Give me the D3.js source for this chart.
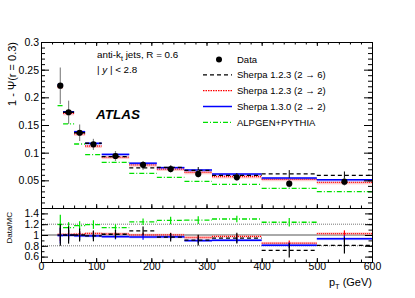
<!DOCTYPE html>
<html>
<head>
<meta charset="utf-8">
<script src="https://cdn.jsdelivr.net/npm/d3@7"></script>
<style>
  body { margin: 0; background: #fff; }
  svg { display: block; font-family: 'Liberation Sans', Arial, sans-serif; }
</style>
</head>
<body>
<svg></svg>
<script>
const w = 415;
const h = 298;

// pT bins (GeV)
const binLo = [30, 40, 60, 80, 110, 160, 210, 260, 310, 400, 500];
const binHi = [40, 60, 80, 110, 160, 210, 260, 310, 400, 500, 600];

// 1 - Psi(r = 0.3)
const dataVal = [0.221, 0.173, 0.136, 0.115, 0.094, 0.078, 0.0705, 0.0615, 0.0555, 0.044, 0.0476];
const dataErr = [0.033, 0.021, 0.015, 0.010, 0.009, 0.007, 0.007, 0.007, 0.006, 0.007, 0.007];
const sherpa26 = [0.221, 0.173, 0.136, 0.117, 0.0927, 0.0725, 0.0735, 0.068, 0.059, 0.0615, 0.059];
const sherpa26Err = [0.004, 0.003, 0.003, 0.003, 0.003, 0.003, 0.004, 0.006, 0.004, 0.007, 0.007];
const sherpa122 = [0.219, 0.171, 0.134, 0.112, 0.092, 0.078, 0.0705, 0.0645, 0.057, 0.0519, 0.0464];
const sherpa130 = [0.223, 0.174, 0.138, 0.117, 0.097, 0.081, 0.073, 0.0687, 0.0615, 0.0542, 0.0512];
const alpgen = [0.185, 0.152, 0.1157, 0.0964, 0.0826, 0.0627, 0.0555, 0.0482, 0.0428, 0.0356, 0.0295];

// Data/MC uncertainties
const ratioErr26 = [0.2, 0.16, 0.12, 0.1, 0.08, 0.08, 0.08, 0.1, 0.1, 0.13, 0.15];
const ratioErr122 = [0.12, 0.08, 0.06, 0.05, 0.04, 0.04, 0.04, 0.04, 0.04, 0.05, 0.06];
const ratioErr130 = [0.15, 0.1, 0.08, 0.06, 0.05, 0.05, 0.05, 0.05, 0.04, 0.05, 0.06];
const ratioErrAlp = [0.18, 0.1, 0.08, 0.08, 0.06, 0.06, 0.07, 0.07, 0.06, 0.08, 0.1];

const xMajor = [0, 100, 200, 300, 400, 500, 600];
const xMinor = d3.range(0, 601, 20);
const yTicks = [0.05, 0.1, 0.15, 0.2, 0.25, 0.3];
const yMinor = d3.range(0, 0.3001, 0.01);
const rTicks = [0.6, 0.8, 1, 1.2, 1.4];
const rMinor = [0.5, 0.6, 0.7, 0.8, 0.9, 1, 1.1, 1.2, 1.3, 1.4, 1.5];

const legendLabels = ['Data', 'Sherpa 1.2.3 (2 \u2192 6)', 'Sherpa 1.2.3 (2 \u2192 2)', 'Sherpa 1.3.0 (2 \u2192 2)', 'ALPGEN+PYTHIA'];

const svg = d3.select('svg').attr('width', w).attr('height', h);

const x = d3.scaleLinear().domain([0, 600]).range([41, 372]);
const y = d3.scaleLinear().domain([0, 0.3]).range([208, 42]);
const yr = d3.scaleLinear().domain([0.5, 1.5]).range([262, 208]);
const mid = i => x((binLo[i] + binHi[i]) / 2);

const green = '#00e000';
const styles = [
  { vals: alpgen, color: green, dash: '5,2,1,2', width: 1.3, rerr: ratioErrAlp },
  { vals: sherpa122, color: '#ff0000', dash: '1,1', width: 1.4, rerr: ratioErr122, band: '#ffaaaa' },
  { vals: sherpa130, color: '#0000ff', dash: null, width: 1.5, rerr: ratioErr130, band: '#9999ff' },
  { vals: sherpa26, color: '#000', dash: '4,3', width: 1.3, rerr: ratioErr26 }
];

svg.append('defs').append('clipPath').attr('id', 'rclip')
  .append('rect').attr('x', 41).attr('y', 208).attr('width', 331).attr('height', 54);

// ---- top panel ----
const main = svg.append('g');

styles.forEach(s => {
  if (s.band) {
    main.selectAll(null).data(s.vals).enter().append('rect')
      .attr('x', (d, i) => x(binLo[i]))
      .attr('width', (d, i) => x(binHi[i]) - x(binLo[i]))
      .attr('y', d => y(d) - 0.5)
      .attr('height', 2.5)
      .attr('fill', s.band)
      .attr('opacity', 0.6);
  }
});

styles.forEach(s => {
  main.selectAll(null).data(s.vals).enter().append('line')
    .attr('x1', (d, i) => x(binLo[i]))
    .attr('x2', (d, i) => x(binHi[i]))
    .attr('y1', d => y(d))
    .attr('y2', d => y(d))
    .attr('stroke', s.color)
    .attr('stroke-width', s.width)
    .attr('stroke-dasharray', s.dash);
});

// Sherpa 2->6 stat errors
main.selectAll(null).data(sherpa26).enter().append('line')
  .attr('x1', (d, i) => mid(i))
  .attr('x2', (d, i) => mid(i))
  .attr('y1', (d, i) => y(d - sherpa26Err[i]))
  .attr('y2', (d, i) => y(d + sherpa26Err[i]))
  .attr('stroke', '#000');

// data
main.selectAll(null).data(dataVal).enter().append('line')
  .attr('x1', (d, i) => mid(i))
  .attr('x2', (d, i) => mid(i))
  .attr('y1', (d, i) => y(d - dataErr[i]))
  .attr('y2', (d, i) => y(d + dataErr[i]))
  .attr('stroke', '#888')
  .attr('stroke-width', 1.2);

main.selectAll(null).data(dataVal).enter().append('circle')
  .attr('cx', (d, i) => mid(i))
  .attr('cy', d => y(d))
  .attr('r', 3.1)
  .attr('fill', '#000');

// ---- ratio panel ----
const rat = svg.append('g').attr('clip-path', 'url(#rclip)');

rat.append('line').attr('x1', 41).attr('x2', 372).attr('y1', yr(1)).attr('y2', yr(1))
  .attr('stroke', '#555').attr('stroke-width', 1);
[1.2, 0.8].forEach(v => {
  rat.append('line').attr('x1', 41).attr('x2', 372).attr('y1', yr(v)).attr('y2', yr(v))
    .attr('stroke', '#777').attr('stroke-dasharray', '1,1');
});

styles.forEach(s => {
  const ratio = dataVal.map((d, i) => d / s.vals[i]);
  if (s.band) {
    rat.selectAll(null).data(ratio).enter().append('rect')
      .attr('x', (d, i) => x(binLo[i]))
      .attr('width', (d, i) => x(binHi[i]) - x(binLo[i]))
      .attr('y', d => yr(d + 0.025))
      .attr('height', d => yr(d - 0.025) - yr(d + 0.025))
      .attr('fill', s.band)
      .attr('opacity', 0.55);
  }
  rat.selectAll(null).data(ratio).enter().append('line')
    .attr('x1', (d, i) => x(binLo[i]))
    .attr('x2', (d, i) => x(binHi[i]))
    .attr('y1', d => yr(d))
    .attr('y2', d => yr(d))
    .attr('stroke', s.color)
    .attr('stroke-width', s.width)
    .attr('stroke-dasharray', s.dash);
  rat.selectAll(null).data(ratio).enter().append('line')
    .attr('x1', (d, i) => mid(i))
    .attr('x2', (d, i) => mid(i))
    .attr('y1', (d, i) => yr(d - s.rerr[i]))
    .attr('y2', (d, i) => yr(d + s.rerr[i]))
    .attr('stroke', s.color)
    .attr('stroke-width', 1.2);
});

// ---- axes ----
const font = "'Liberation Sans', Arial, sans-serif";
const styleAxis = g => {
  g.select('.domain').remove();
  g.attr('font-family', font).attr('font-size', 10.5);
  g.selectAll('text').attr('fill', '#000');
  g.selectAll('line').attr('stroke', '#000');
};

// top panel
svg.append('g').attr('transform', 'translate(41,0)')
  .call(d3.axisLeft(y).tickValues(yTicks).tickSize(-8).tickPadding(2).tickFormat(d3.format('~g')))
  .call(styleAxis);
svg.append('g').attr('transform', 'translate(41,0)')
  .call(d3.axisLeft(y).tickValues(yMinor).tickSize(-4).tickFormat(''))
  .call(styleAxis);
svg.append('g').attr('transform', 'translate(372,0)')
  .call(d3.axisRight(y).tickValues(yTicks).tickSize(-8).tickFormat(''))
  .call(styleAxis);
svg.append('g').attr('transform', 'translate(372,0)')
  .call(d3.axisRight(y).tickValues(yMinor).tickSize(-4).tickFormat(''))
  .call(styleAxis);
svg.append('g').attr('transform', 'translate(0,208)')
  .call(d3.axisTop(x).tickValues(xMajor).tickSize(4).tickFormat(''))
  .call(styleAxis);
svg.append('g').attr('transform', 'translate(0,208)')
  .call(d3.axisTop(x).tickValues(xMinor).tickSize(2.5).tickFormat(''))
  .call(styleAxis);
svg.append('g').attr('transform', 'translate(0,42)')
  .call(d3.axisBottom(x).tickValues(xMajor).tickSize(4).tickFormat(''))
  .call(styleAxis);
svg.append('g').attr('transform', 'translate(0,42)')
  .call(d3.axisBottom(x).tickValues(xMinor).tickSize(2.5).tickFormat(''))
  .call(styleAxis);

// ratio panel
svg.append('g').attr('transform', 'translate(41,0)')
  .call(d3.axisLeft(yr).tickValues(rTicks).tickSize(-7).tickPadding(2).tickFormat(d3.format('~g')))
  .call(styleAxis);
svg.append('g').attr('transform', 'translate(41,0)')
  .call(d3.axisLeft(yr).tickValues(rMinor).tickSize(-3.5).tickFormat(''))
  .call(styleAxis);
svg.append('g').attr('transform', 'translate(372,0)')
  .call(d3.axisRight(yr).tickValues(rTicks).tickSize(-7).tickFormat(''))
  .call(styleAxis);
svg.append('g').attr('transform', 'translate(372,0)')
  .call(d3.axisRight(yr).tickValues(rMinor).tickSize(-3.5).tickFormat(''))
  .call(styleAxis);
svg.append('g').attr('transform', 'translate(0,262)')
  .call(d3.axisBottom(x).tickValues(xMajor).tickSize(-4).tickPadding(1))
  .call(styleAxis);
svg.append('g').attr('transform', 'translate(0,262)')
  .call(d3.axisBottom(x).tickValues(xMinor).tickSize(-2.5).tickFormat(''))
  .call(styleAxis);

// frames
[[42, 208], [208, 262]].forEach(([y0, y1]) => {
  svg.append('rect')
    .attr('x', 41.5).attr('y', y0 + 0.5)
    .attr('width', 331).attr('height', y1 - y0)
    .attr('fill', 'none').attr('stroke', '#000').attr('stroke-width', 1);
});

// ---- titles ----
svg.append('text')
  .attr('transform', 'translate(16,42) rotate(-90)')
  .attr('text-anchor', 'end')
  .attr('font-size', 11)
  .text('1 - \u03A8(r = 0.3)');

svg.append('text')
  .attr('transform', 'translate(12,212) rotate(-90)')
  .attr('text-anchor', 'end')
  .attr('font-size', 8)
  .text('Data/MC');

const xt = svg.append('text')
  .attr('x', 372).attr('y', 286)
  .attr('text-anchor', 'end')
  .attr('font-size', 11);
xt.append('tspan').text('p');
xt.append('tspan').attr('font-size', 7.5).attr('dy', 3).text('T');
xt.append('tspan').attr('dy', -3).text(' (GeV)');

const t1 = svg.append('text').attr('x', 97).attr('y', 58).attr('font-size', 9.8);
t1.append('tspan').text('anti-k');
t1.append('tspan').attr('font-size', 7).attr('dy', 2.5).text('t');
t1.append('tspan').attr('dy', -2.5).text(' jets, R = 0.6');

const t2 = svg.append('text').attr('x', 97).attr('y', 73).attr('font-size', 9.8);
t2.append('tspan').text('| ');
t2.append('tspan').attr('font-style', 'italic').text('y');
t2.append('tspan').text(' | < 2.8');

svg.append('text')
  .attr('x', 96).attr('y', 119)
  .attr('font-size', 13.5)
  .attr('font-weight', 'bold')
  .attr('font-style', 'italic')
  .text('ATLAS');

// ---- legend ----
const legY = [62.5, 78.3, 94.2, 110, 125.8];
const legStyles = [null, styles[3], styles[1], styles[2], styles[0]];
const leg = svg.append('g');
legendLabels.forEach((lab, i) => {
  leg.append('text')
    .attr('x', 237).attr('y', legY[i])
    .attr('font-size', 9.5)
    .text(lab);
  const s = legStyles[i];
  if (!s) {
    leg.append('circle').attr('cx', 219).attr('cy', legY[i] - 3).attr('r', 3).attr('fill', '#000');
  } else {
    leg.append('line')
      .attr('x1', 203).attr('x2', 232)
      .attr('y1', legY[i] - 3.5).attr('y2', legY[i] - 3.5)
      .attr('stroke', s.color)
      .attr('stroke-width', s === styles[1] ? 1.2 : s.width)
      .attr('stroke-dasharray', s === styles[1] ? '1.5,1' : s.dash);
  }
});
</script>
</body>
</html>
